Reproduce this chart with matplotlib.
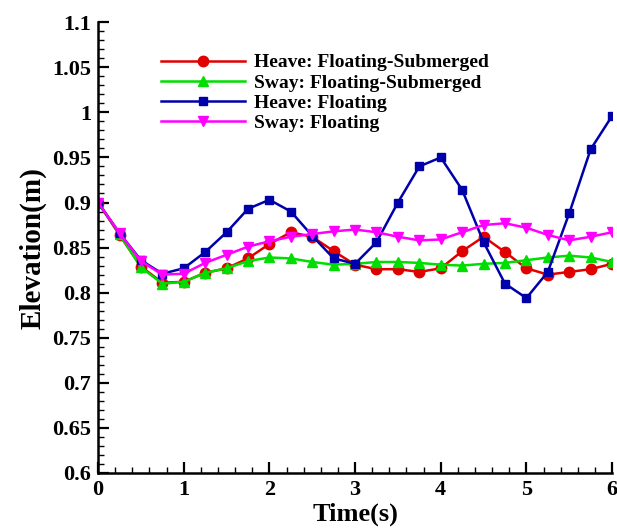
import numpy as np
import matplotlib
matplotlib.use("Agg")
import matplotlib.pyplot as plt
from matplotlib.ticker import MultipleLocator

# time samples (s)
t = np.arange(0, 6.01, 0.25)

heave_fs = [0.900, 0.864, 0.829, 0.811, 0.812, 0.822, 0.827, 0.838, 0.854, 0.867,
            0.862, 0.846, 0.831, 0.826, 0.826, 0.823, 0.827, 0.846, 0.862, 0.845,
            0.827, 0.820, 0.823, 0.826, 0.832]
sway_fs = [0.900, 0.865, 0.828, 0.810, 0.812, 0.822, 0.827, 0.835, 0.839, 0.838,
           0.834, 0.831, 0.832, 0.834, 0.834, 0.833, 0.831, 0.830, 0.832, 0.833,
           0.836, 0.839, 0.841, 0.839, 0.834]
heave_f = [0.900, 0.866, 0.836, 0.821, 0.827, 0.845, 0.867, 0.893, 0.903, 0.890,
           0.863, 0.838, 0.832, 0.856, 0.900, 0.940, 0.950, 0.914, 0.856, 0.810,
           0.794, 0.823, 0.888, 0.959, 0.996]
sway_f = [0.900, 0.866, 0.835, 0.820, 0.821, 0.833, 0.842, 0.851, 0.857, 0.862,
          0.865, 0.868, 0.870, 0.867, 0.862, 0.858, 0.859, 0.867, 0.875, 0.877,
          0.872, 0.864, 0.858, 0.862, 0.867]

labels = ["Heave: Floating-Submerged", "Sway: Floating-Submerged",
          "Heave: Floating", "Sway: Floating"]
yticks = [0.6, 0.65, 0.7, 0.75, 0.8, 0.85, 0.9, 0.95, 1.0, 1.05, 1.1]
ytick_labels = ["0.6", "0.65", "0.7", "0.75", "0.8", "0.85", "0.9", "0.95", "1", "1.05", "1.1"]

plt.rcParams['font.family'] = ['Liberation Serif', 'DejaVu Serif']
plt.rcParams['font.weight'] = 'bold'

fig = plt.figure(figsize=(6.17, 5.29), dpi=100)
ax = fig.add_axes([0.159, 0.106, 0.833, 0.852])

ax.plot(t, heave_fs, color='#e00000', marker='o', ms=7.5, lw=1.8, label=labels[0])
ax.plot(t, sway_fs, color='#00dd00', marker='^', ms=6.5, lw=1.8, label=labels[1])
ax.plot(t, heave_f, color='#0000aa', marker='s', ms=5.5, lw=1.8, label=labels[2])
ax.plot(t, sway_f, color='#ff00ff', marker='v', ms=6.5, lw=1.8, label=labels[3])

ax.set_xlim(0, 6)
ax.set_ylim(0.6, 1.1)
ax.xaxis.set_major_locator(MultipleLocator(1))
ax.xaxis.set_minor_locator(MultipleLocator(0.2))
ax.yaxis.set_minor_locator(MultipleLocator(0.01))
ax.set_yticks(yticks)
ax.set_yticklabels(ytick_labels)
ax.tick_params(which='major', direction='in', length=8, width=1.6, labelsize=16, pad=5)
ax.tick_params(which='minor', direction='in', length=4, width=1)
ax.spines['top'].set_visible(False)
ax.spines['right'].set_visible(False)
ax.spines['left'].set_linewidth(1.8)
ax.spines['bottom'].set_linewidth(1.8)

ax.set_xlabel("Time(s)", fontsize=19, fontweight='bold', labelpad=2)
ax.set_ylabel("Elevation(m)", fontsize=21, fontweight='bold', labelpad=4)

ax.legend(loc='upper left', bbox_to_anchor=(0.1226, 0.93), frameon=False,
          handlelength=4.3, labelspacing=0.13, handletextpad=0.5,
          borderpad=0, borderaxespad=0,
          prop={'weight': 'bold', 'size': 14})

fig.savefig("out.png", dpi=100)
